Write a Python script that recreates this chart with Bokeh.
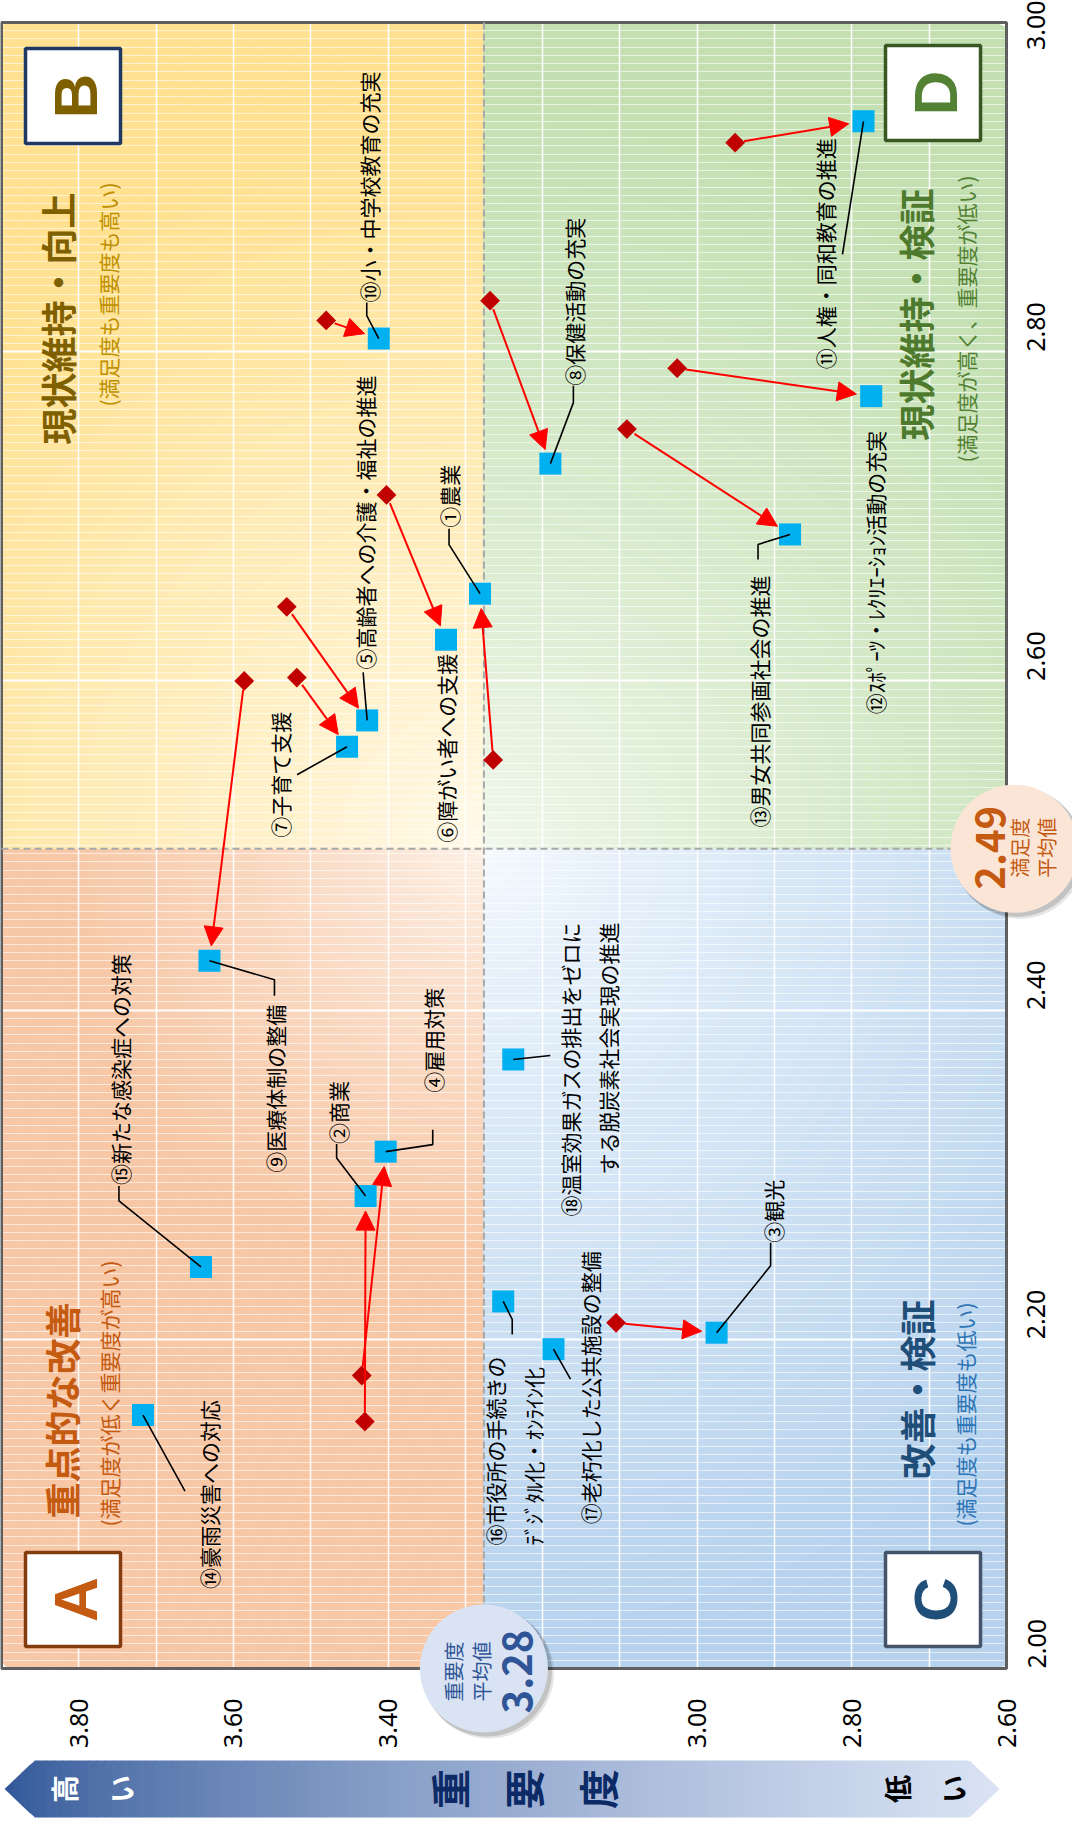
import math
import numpy as np
from bokeh.plotting import figure
from bokeh.models import (ColumnDataSource, Range1d, FixedTicker, Arrow, NormalHead,
                          NumeralTickFormatter)
from bokeh.core.properties import value
from bokeh.embed import file_html
from bokeh.resources import INLINE

# ---------------- data ----------------
ITEM_NO = ["①", "②", "③", "④", "⑤", "⑥", "⑦", "⑧", "⑨", "⑩", "⑪", "⑫", "⑬", "⑭", "⑮", "⑯", "⑰", "⑱"]
ITEM_TEXT = ["農業", "商業", "観光", "雇用対策", "高齢者への介護・福祉の推進", "障がい者への支援",
             "子育て支援", "保健活動の充実", "医療体制の整備", "小・中学校教育の充実",
             "人権・同和教育の推進", "ｽﾎﾟｰﾂ・ﾚｸﾘｴｰｼｮﾝ活動の充実", "男女共同参画社会の推進",
             "豪雨災害への対応", "新たな感染症への対策", "市役所の手続きの\nﾃﾞｼﾞﾀﾙ化・ｵﾝﾗｲﾝ化",
             "老朽化した公共施設の整備", "温室効果ガスの排出をゼロに\nする脱炭素社会実現の推進"]
# current survey (importance, satisfaction)
IMP_NOW = [3.281, 3.429, 2.975, 3.403, 3.427, 3.325, 3.453, 3.190, 3.631, 3.412,
           2.785, 2.775, 2.880, 3.717, 3.642, 3.251, 3.186, 3.238]
SAT_NOW = [2.653, 2.287, 2.204, 2.314, 2.576, 2.625, 2.560, 2.732, 2.430, 2.808,
           2.940, 2.773, 2.689, 2.154, 2.244, 2.223, 2.194, 2.370]
# previous survey (None = new item)
IMP_PREV = [3.264, 3.430, 3.105, 3.434, 3.531, 3.402, 3.518, 3.268, 3.586, 3.480,
            2.951, 3.026, 3.091, None, None, None, None, None]
SAT_PREV = [2.552, 2.150, 2.210, 2.178, 2.645, 2.713, 2.602, 2.831, 2.600, 2.819,
            2.927, 2.790, 2.753, None, None, None, None, None]
IMP_MEAN = 3.276
IMP_MEAN_TEXT = "3.28"
SAT_MEAN = 2.498
SAT_MEAN_TEXT = "2.49"
IMP_TICKS = [3.8, 3.6, 3.4, 3.0, 2.8, 2.6]
SAT_TICKS = [2.0, 2.2, 2.4, 2.6, 2.8, 3.0]

# ---------------- layout (label offsets in px from the square) ----------------
LABEL_OFF = [(-31, -66), (-28, -52), (56, -90), (47, -59), (-2, -51), (0, 203), (-67, 91),
             (24, -78), (66, 212), (-10, -36), (-38, 248), (4, 318), (-31, 293), (66, 174),
             (-81, -82), (-8, 244), (37, 175), (57, -137)]
LABEL_ALIGN = ["left"] * 17 + ["right"]
LEADERS = [[(-31, -65), (-31, -49), (0, 0)], [(-29, -52), (-29, -38), (0, 0)],
           [(54, -90), (54, -67), (0, 0)], [(47, -22), (47, -7), (0, 0)],
           [(-4, -48), (-3, -35), (0, 0)], None, [(-50, 28), (0, 0)],
           [(23, -78), (23, -61), (0, 0)], [(65, 35), (65, 19), (0, 0)],
           [(-12, -36), (-12, -23), (0, 0)], [(-21, 133), (0, 0)], None,
           [(-32, 25), (-32, 10), (0, 0)], [(42, 76), (0, 0)],
           [(-82, -81), (-82, -66), (0, 0)], [(9, 33), (9, 18), (0, 0)],
           [(17, 30), (0, 0)], [(37, -4), (0, 0)]]
LINE_GAP = 38

X_LO, X_HI = 2.60, 3.90          # importance shown in chart area (reversed)
Y_LO, Y_HI = 2.0, 3.0            # satisfaction
CW, CH = 1072, 1818              # canvas = frame
CHART_W, CHART_H = 1005, 1646
BL, BT = 1, 22                   # chart area top-left on canvas
PX_I = CHART_W / (X_HI - X_LO)
PX_S = CHART_H / (Y_HI - Y_LO)
PAGE = 8


def imp_c(cx):      # canvas px -> importance
    return X_HI - (cx - BL) / PX_I


def sat_c(cy):      # canvas px -> satisfaction
    return Y_HI - (cy - BT) / PX_S


def imp_at(x):      # page px -> importance
    return imp_c(x - PAGE)


def sat_at(y):
    return sat_c(y - PAGE)


def hexc(rgb):
    return "#%02x%02x%02x" % tuple(int(round(v)) for v in rgb)


JP = "Noto Sans CJK JP"
ROT = math.pi / 2

p = figure(frame_width=CW, frame_height=CH, output_backend="svg", toolbar_location=None,
           x_range=Range1d(imp_c(0), imp_c(CW)), y_range=Range1d(sat_c(CH), sat_c(0)),
           y_axis_location="right", min_border=0, border_fill_color="white",
           background_fill_color="white")
p.outline_line_color = None

# ---------------- quadrant gradient backgrounds (quarter discs clipped to each quadrant) ----------------
W_L = (X_HI - IMP_MEAN) * PX_I
W_R = (IMP_MEAN - X_LO) * PX_I
H_U = (Y_HI - SAT_MEAN) * PX_S
H_D = (SAT_MEAN - Y_LO) * PX_S
QUADS = [
    dict(sx=-1, sy=1, W=W_L, H=H_D, near=(253, 242, 233), far=(247, 199, 166), R=430, g=0.8),   # A
    dict(sx=-1, sy=-1, W=W_L, H=H_U, near=(255, 250, 236), far=(255, 225, 145), R=720, g=0.85),  # B
    dict(sx=1, sy=1, W=W_R, H=H_D, near=(246, 250, 254), far=(182, 210, 237), R=820, g=0.8),    # C
    dict(sx=1, sy=-1, W=W_R, H=H_U, near=(242, 248, 238), far=(196, 224, 178), R=760, g=0.8),   # D
]
th = np.linspace(0, math.pi / 2, 61)
for q in QUADS:
    rmax = math.hypot(q["W"], q["H"]) + 2
    radii = np.linspace(rmax, 3, 110)
    t = np.clip(radii / q["R"], 0, 1) ** q["g"]
    cols = [hexc([n + (f - n) * ti for n, f in zip(q["near"], q["far"])]) for ti in t]
    xs_all, ys_all = [], []
    for r in radii:
        du = np.minimum(r * np.cos(th), q["W"])
        dv = np.minimum(r * np.sin(th), q["H"])
        xs_all.append([IMP_MEAN] + list(IMP_MEAN - q["sx"] * du / PX_I))
        ys_all.append([SAT_MEAN] + list(SAT_MEAN - q["sy"] * dv / PX_S))
    bg = p.patches(xs=xs_all, ys=ys_all, fill_color=cols, line_color=None)
    bg.level = "image"

# ---------------- grid ----------------
p.xgrid.ticker = FixedTicker(ticks=[round(X_LO + 0.1 * k, 2) for k in range(14)])
p.xgrid.grid_line_color = "white"
p.xgrid.grid_line_width = 1.5
p.ygrid.ticker = FixedTicker(ticks=SAT_TICKS,
                             minor_ticks=[round(Y_LO + 0.005 * k, 4) for k in range(201)])
p.ygrid.grid_line_color = "white"
p.ygrid.grid_line_width = 2
p.ygrid.minor_grid_line_color = "white"
p.ygrid.minor_grid_line_alpha = 0.6
p.ygrid.minor_grid_line_width = 1

# ---------------- axes (fixed at chart edges) ----------------
p.xaxis.fixed_location = Y_LO
p.yaxis.fixed_location = X_LO
for ax, ticks in ((p.xaxis, IMP_TICKS), (p.yaxis, SAT_TICKS)):
    ax.ticker = FixedTicker(ticks=ticks)
    ax.formatter = NumeralTickFormatter(format="0.00")
    ax.major_label_orientation = ROT
    ax.axis_line_color = None
    ax.major_tick_line_color = None
    ax.minor_tick_line_color = None
    ax.major_label_text_font = "Noto Sans"
    ax.major_label_text_font_size = "25px"
    ax.major_label_text_color = "black"
    ax.major_label_standoff = 24

# chart border
p.quad(left=X_HI, right=X_LO, bottom=Y_LO, top=Y_HI, fill_color=None,
       line_color="#5f5f5f", line_width=3)

# ---------------- mean lines ----------------
p.line(x=[IMP_MEAN, IMP_MEAN], y=[Y_LO, Y_HI], line_color="#a8a8a8", line_width=2, line_dash="7 4")
p.line(x=[X_HI, X_LO], y=[SAT_MEAN, SAT_MEAN], line_color="#a8a8a8", line_width=2, line_dash="7 4")

# ---------------- quadrant boxes and titles ----------------
BOXES = [("A", 33, 128, 1560, 1654, "#843c0c", "#c55a11"),
         ("B", 33, 128, 56, 151, "#1f3864", "#7f6000"),
         ("C", 893, 988, 1560, 1654, "#44546a", "#1f4e79"),
         ("D", 893, 988, 53, 148, "#385723", "#548235")]
for letter, x0, x1, y0, y1, lc, tc in BOXES:
    p.quad(left=imp_at(x0), right=imp_at(x1), top=sat_at(y0), bottom=sat_at(y1),
           fill_color="white", line_color=lc, line_width=3.5)
    p.text(x=[imp_at((x0 + x1) / 2 + 2)], y=[sat_at((y0 + y1) / 2)], text=[letter], angle=ROT,
           text_align="center", text_baseline="middle", text_font=value("Liberation Sans"),
           text_font_style="bold", text_font_size="62px", text_color=tc)

TITLES = [("重点的な改善", 68, 1526, "36px", "bold", "#c55a11"),
          ("(満足度が低く重要度が高い)", 116, 1534, "21px", "normal", "#c55a11"),
          ("現状維持・向上", 64, 452, "36px", "bold", "#7f6000"),
          ("(満足度も重要度も高い)", 115, 414, "21px", "normal", "#bf9000"),
          ("改善・検証", 923, 1487, "36px", "bold", "#1f4e79"),
          ("(満足度も重要度も低い)", 972, 1534, "21px", "normal", "#2e75b6"),
          ("現状維持・検証", 922, 448, "36px", "bold", "#4e7a2e"),
          ("(満足度が高く、重要度が低い)", 973, 470, "21px", "normal", "#548235")]
for txt, x, y, fs, st, c in TITLES:
    p.text(x=[imp_at(x)], y=[sat_at(y)], text=[txt], angle=ROT, text_align="left",
           text_baseline="middle", text_font=value(JP), text_font_size=fs,
           text_font_style=st, text_color=c)

# ---------------- previous points, arrows, current points ----------------
prev_idx = [i for i in range(len(ITEM_NO)) if IMP_PREV[i] is not None]
p.scatter(x=[IMP_PREV[i] for i in prev_idx], y=[SAT_PREV[i] for i in prev_idx],
          marker="square", size=14, angle=math.pi / 4, fill_color="#c00000", line_color=None)

ax0, ay0, ax1, ay1 = [], [], [], []
for i in prev_idx:
    dxs = (IMP_PREV[i] - IMP_NOW[i]) * PX_I
    dys = (SAT_PREV[i] - SAT_NOW[i]) * PX_S
    L = math.hypot(dxs, dys)
    ux, uy = dxs / L, dys / L
    ax0.append(IMP_PREV[i] - 9 * ux / PX_I)
    ay0.append(SAT_PREV[i] - 9 * uy / PX_S)
    ax1.append(IMP_NOW[i] + 15 * ux / PX_I)
    ay1.append(SAT_NOW[i] + 15 * uy / PX_S)
asrc = ColumnDataSource(dict(x0=ax0, y0=ay0, x1=ax1, y1=ay1))
p.add_layout(Arrow(end=NormalHead(size=19, fill_color="#ff0000", line_color="#ff0000", line_width=1),
                   x_start="x0", y_start="y0", x_end="x1", y_end="y1", source=asrc,
                   line_color="#ff0000", line_width=2))

p.scatter(x=IMP_NOW, y=SAT_NOW, marker="square", size=22, fill_color="#00b0f0", line_color=None)

# leader lines
lxs, lys = [], []
for i, pts in enumerate(LEADERS):
    if pts is None:
        continue
    lxs.append([IMP_NOW[i] - dx / PX_I for dx, dy in pts])
    lys.append([SAT_NOW[i] - dy / PX_S for dx, dy in pts])
p.multi_line(xs=lxs, ys=lys, line_color="black", line_width=1.6)

# item labels
for align in ("left", "right"):
    tx, ty, tt = [], [], []
    for i in range(len(ITEM_NO)):
        if LABEL_ALIGN[i] != align:
            continue
        lines = (ITEM_NO[i] + ITEM_TEXT[i]).split("\n")
        dx, dy = LABEL_OFF[i]
        for k, ln in enumerate(lines):
            tx.append(IMP_NOW[i] - (dx + k * LINE_GAP) / PX_I)
            ty.append(SAT_NOW[i] - dy / PX_S)
            tt.append(ln)
    p.text(x=tx, y=ty, text=tt, angle=ROT, text_align=align, text_baseline="middle",
           text_font=value(JP), text_font_size="21px", text_color="black")

# ---------------- importance arrow band (below axis, canvas px) ----------------
B_TOP, B_BOT = 1760, 1817
B_MID = (B_TOP + B_BOT) / 2
B_HALF = (B_BOT - B_TOP) / 2
TIP_L, BODY_L, BODY_R, TIP_R = 4, 34, 969, 999


def half_h(x):
    if x < BODY_L:
        return B_HALF * (x - TIP_L) / (BODY_L - TIP_L)
    if x > BODY_R:
        return B_HALF * (TIP_R - x) / (TIP_R - BODY_R)
    return B_HALF


c_dark, c_light = (47, 85, 151), (218, 227, 244)
edges = sorted(set([round(v, 2) for v in np.linspace(TIP_L, TIP_R, 120)] + [BODY_L, BODY_R]))
bxs, bys, bcs = [], [], []
for a, b in zip(edges[:-1], edges[1:]):
    bb = min(b + 0.7, TIP_R)
    xs = [a, bb, bb, a]
    ys = [B_MID - half_h(a), B_MID - half_h(bb), B_MID + half_h(bb), B_MID + half_h(a)]
    t = (((a + b) / 2 - TIP_L) / (TIP_R - TIP_L)) ** 0.7
    bcs.append(hexc([d + (l - d) * t for d, l in zip(c_dark, c_light)]))
    bxs.append([imp_c(v) for v in xs])
    bys.append([sat_c(v) for v in ys])
p.patches(xs=bxs, ys=bys, fill_color=bcs, line_color=None)

BAND_TEXT = [("高", 63, "28px", "white"), ("い", 120, "28px", "white"),
             ("重", 448, "40px", "#0b2a66"), ("要", 522, "40px", "#0b2a66"),
             ("度", 596, "40px", "#0b2a66"),
             ("低", 896, "28px", "black"), ("い", 952, "28px", "black")]
for ch, x, fs, c in BAND_TEXT:
    p.text(x=[imp_c(x)], y=[sat_c(B_MID)], text=[ch], angle=ROT, text_align="center",
           text_baseline="middle", text_font=value(JP), text_font_size=fs,
           text_font_style="bold", text_color=c)

# ---------------- mean value circles ----------------
CIRCLES = [(IMP_MEAN, Y_LO, 0, "#dae3f3"), (X_LO, SAT_MEAN, 8, "#fbe5d6")]
for imp, sat, shift, fill in CIRCLES:
    ci = imp - shift / PX_I
    for off, alpha in ((5, 0.10), (3, 0.15)):
        p.scatter(x=[ci - off / PX_I], y=[sat - off / PX_S], marker="circle", size=130,
                  fill_color="black", fill_alpha=alpha, line_color=None)
    p.scatter(x=[ci], y=[sat], marker="circle", size=128, fill_color=fill, line_color=None)

for txt, dx, fs, st in (("重要度", -30, "20px", "normal"), ("平均値", -2, "20px", "normal"),
                        (IMP_MEAN_TEXT, 33, "40px", "bold")):
    p.text(x=[IMP_MEAN - dx / PX_I], y=[Y_LO - 3 / PX_S], text=[txt], angle=ROT,
           text_align="center", text_baseline="middle", text_font=value(JP),
           text_font_size=fs, text_font_style=st, text_color="#2f5597")
for txt, dx, fs, st in ((SAT_MEAN_TEXT, -17, "40px", "bold"), ("満足度", 13, "20px", "normal"),
                        ("平均値", 40, "20px", "normal")):
    p.text(x=[X_LO - dx / PX_I], y=[SAT_MEAN + 1 / PX_S], text=[txt], angle=ROT,
           text_align="center", text_baseline="middle", text_font=value(JP),
           text_font_size=fs, text_font_style=st, text_color="#c55a11")

open("out.html", "w").write(file_html(p, INLINE))
